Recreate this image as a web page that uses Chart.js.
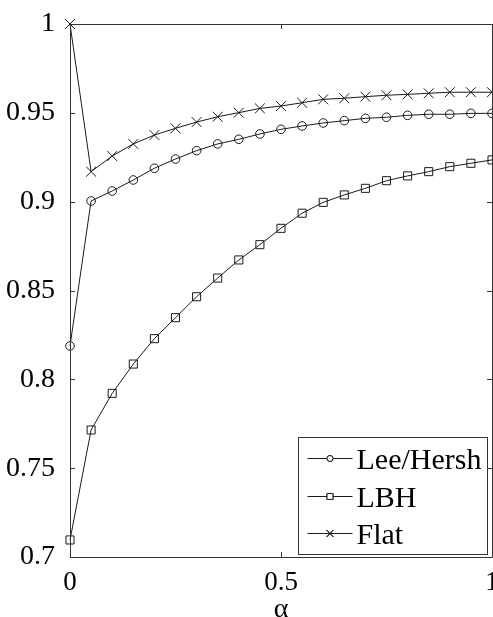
<!DOCTYPE html>
<html><head><meta charset="utf-8">
<script src="https://cdn.jsdelivr.net/npm/chart.js@4"></script>
<style>html,body{margin:0;padding:0;background:#fff;overflow:hidden}canvas{display:block}</style>
</head><body>
<div style="width:493px;height:617px"><canvas id="c" width="493" height="617"></canvas></div>
<script>
// ---- data ----
const alpha = [0, 0.05, 0.1, 0.15, 0.2, 0.25, 0.3, 0.35, 0.4, 0.45, 0.5, 0.55, 0.6, 0.65, 0.7, 0.75, 0.8, 0.85, 0.9, 0.95, 1];
const leeHersh = [0.8188, 0.9004, 0.9060, 0.9122, 0.9188, 0.9240, 0.9287, 0.9325, 0.9351, 0.9381, 0.9407, 0.9426, 0.9443, 0.9456, 0.9469, 0.9475, 0.9486, 0.9492, 0.9492, 0.9497, 0.9497];
const lbh = [0.7096, 0.7715, 0.7921, 0.8086, 0.8229, 0.8347, 0.8465, 0.8570, 0.8672, 0.8758, 0.8850, 0.8935, 0.8996, 0.9038, 0.9075, 0.9118, 0.9145, 0.9169, 0.9197, 0.9216, 0.9235];
const flat = [1.0, 0.9169, 0.9257, 0.9325, 0.9375, 0.9413, 0.9448, 0.9478, 0.9501, 0.9525, 0.9538, 0.9557, 0.9576, 0.9582, 0.9591, 0.9599, 0.9604, 0.9610, 0.9616, 0.9616, 0.9616];
const seriesNames = ['Lee/Hersh', 'LBH', 'Flat'];
const xTickValues = [0, 0.5, 1];
const xTickLabels = ['0', '0.5', '1'];
const yTickValues = [0.7, 0.75, 0.8, 0.85, 0.9, 0.95, 1];
const yTickLabels = ['0.7', '0.75', '0.8', '0.85', '0.9', '0.95', '1'];
const xTitle = 'α';

const FONT = "'Liberation Serif'";
const INK = '#1a1a1a';
Chart.defaults.font.family = FONT;

function pts(ys) { return alpha.map((x, i) => ({x: x, y: ys[i]})); }

const styles = [
  {pointStyle: 'circle', pointRadius: 4.3, legendRadius: 3},
  {pointStyle: 'rect', pointRadius: 5.7, legendRadius: 4.2},
  {pointStyle: 'crossRot', pointRadius: 7, legendRadius: 5}
];

const datasets = [leeHersh, lbh, flat].map((ys, i) => ({
  label: seriesNames[i],
  data: pts(ys),
  borderColor: INK,
  backgroundColor: 'rgba(0,0,0,0)',
  borderWidth: 1,
  pointStyle: styles[i].pointStyle,
  pointRadius: styles[i].pointRadius,
  pointHoverRadius: styles[i].pointRadius,
  pointBorderColor: INK,
  pointBackgroundColor: 'rgba(0,0,0,0)',
  pointBorderWidth: 1,
  tension: 0,
  clip: false
}));

const frameTicks = {
  id: 'frameTicks',
  afterDatasetsDraw(chart) {
    const {ctx, chartArea: a, scales} = chart;
    const TL = 5;
    ctx.save();
    ctx.strokeStyle = '#333';
    ctx.lineWidth = 1;
    ctx.beginPath();
    ctx.rect(Math.round(a.left) + 0.5, Math.round(a.top) + 0.5, Math.round(a.right - a.left), Math.round(a.bottom - a.top));
    scales.x.ticks.forEach(t => {
      const px = Math.round(scales.x.getPixelForValue(t.value)) + 0.5;
      ctx.moveTo(px, a.bottom); ctx.lineTo(px, a.bottom - TL);
      ctx.moveTo(px, a.top); ctx.lineTo(px, a.top + TL);
    });
    scales.y.ticks.forEach(t => {
      const py = Math.round(scales.y.getPixelForValue(t.value)) + 0.5;
      ctx.moveTo(a.left, py); ctx.lineTo(a.left + TL, py);
      ctx.moveTo(a.right, py); ctx.lineTo(a.right - TL, py);
    });
    ctx.stroke();
    ctx.restore();
  },
  afterDraw(chart) {
    const {ctx, chartArea: a} = chart;
    const w = 189, h = 117;
    const bx = Math.round(a.right - 5 - w) + 0.5, by = Math.round(a.bottom - 3 - h) + 0.5;
    ctx.save();
    ctx.fillStyle = '#fff';
    ctx.fillRect(bx, by, w, h);
    ctx.strokeStyle = '#333';
    ctx.lineWidth = 1;
    ctx.strokeRect(bx, by, w, h);
    chart.data.datasets.forEach((ds, i) => {
      const cy = Math.round(by + 20.3 + i * 37.7) + 0.5;
      ctx.strokeStyle = INK;
      ctx.beginPath();
      ctx.moveTo(bx + 9, cy); ctx.lineTo(bx + 54, cy);
      ctx.stroke();
      ctx.fillStyle = '#fff';
      Chart.helpers.drawPoint(ctx, {pointStyle: ds.pointStyle, radius: styles[i].legendRadius, borderWidth: 1, rotation: 0}, bx + 31.5, cy);
      if (ds.pointStyle !== 'crossRot') ctx.fill();
      ctx.stroke();
      // label text: 26px nominal, scaled up to ~30px
      ctx.save();
      ctx.translate(bx + 58, cy + 10.5);
      ctx.scale(30 / 26, 30 / 26);
      ctx.font = "26px 'Liberation Serif'";
      ctx.textBaseline = 'alphabetic';
      ctx.textAlign = 'left';
      ctx.fillStyle = '#000';
      ctx.fillText(ds.label, 0, 0);
      ctx.restore();
    });
    ctx.restore();
  }
};

new Chart(document.getElementById('c'), {
  type: 'line',
  data: {datasets: datasets},
  plugins: [frameTicks],
  options: {
    responsive: false,
    animation: false,
    layout: {autoPadding: false, padding: {top: 24, right: 1, left: 0, bottom: 0}},
    plugins: {legend: {display: false}, tooltip: {enabled: false}},
    scales: {
      x: {
        type: 'linear',
        min: 0, max: 1,
        afterBuildTicks: s => { s.ticks = xTickValues.map(v => ({value: v})); },
        afterFit: s => { s.height = 60; s.paddingLeft = 0; s.paddingRight = 0; },
        grid: {display: false},
        border: {display: false},
        ticks: {
          callback: (v, i) => xTickLabels[i],
          font: {size: 27},
          color: '#000',
          padding: 2,
          maxRotation: 0,
          autoSkip: false
        },
        title: {
          display: true,
          text: xTitle,
          font: {size: 28, lineHeight: 0.55},
          color: '#000',
          padding: 0
        }
      },
      y: {
        type: 'linear',
        min: 0.7, max: 1,
        afterBuildTicks: s => { s.ticks = yTickValues.map(v => ({value: v})); },
        afterFit: s => { s.width = 70; s.paddingTop = 0; s.paddingBottom = 0; },
        grid: {display: false},
        border: {display: false},
        ticks: {
          callback: (v, i) => yTickLabels[i],
          font: {size: 28},
          color: '#000',
          padding: 7,
          autoSkip: false
        }
      }
    }
  }
});
</script>
</body></html>
